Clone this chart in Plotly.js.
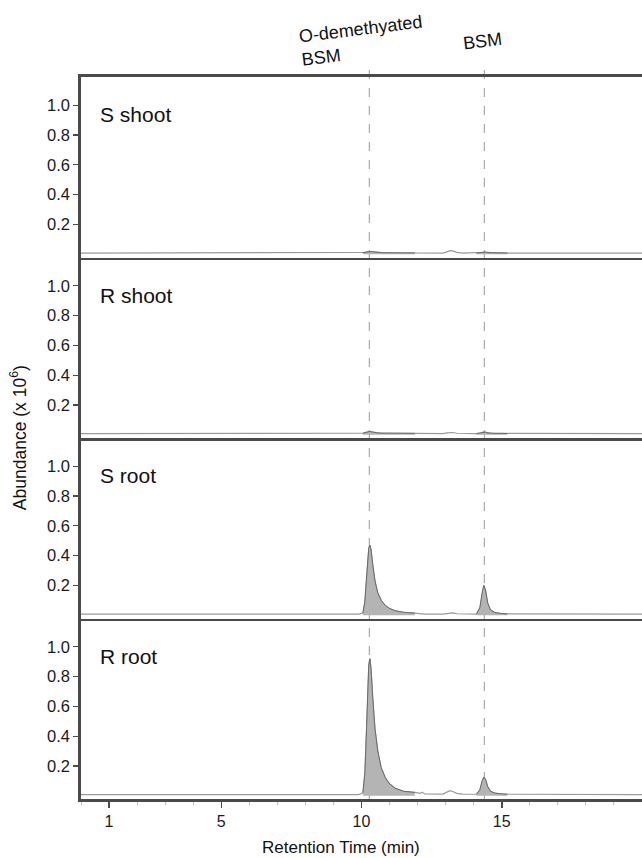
<!DOCTYPE html>
<html>
<head>
<meta charset="utf-8">
<script src="https://cdn.plot.ly/plotly-3.0.1.min.js"></script>
<style>html,body{margin:0;padding:0;background:#fff;}#chart{width:642px;height:858px;}</style>
</head>
<body>
<div id="chart"></div>
<script>
// Retention time grid (min)
const times = [0, 9.9, 10.05, 10.12, 10.18, 10.22, 10.26, 10.30, 10.34, 10.40, 10.48, 10.58, 10.70, 10.85, 11.0, 11.2, 11.4, 11.5, 11.9, 12.1, 12.17, 12.25, 12.9, 13.05, 13.15, 13.25, 13.4, 13.6, 14.1, 14.22, 14.3, 14.36, 14.42, 14.5, 14.6, 14.75, 14.95, 15.2, 20];
// Abundance (x 10^6) per sample
const sShoot = [0.008, 0.008, 0.010, 0.013, 0.016, 0.018, 0.019, 0.019, 0.018, 0.016, 0.014, 0.012, 0.011, 0.010, 0.010, 0.010, 0.010, 0.010, 0.009, 0.008, 0.008, 0.008, 0.008, 0.016, 0.024, 0.022, 0.012, 0.008, 0.008, 0.010, 0.013, 0.015, 0.014, 0.011, 0.010, 0.009, 0.009, 0.008, 0.008];
const rShoot = [0.008, 0.008, 0.010, 0.014, 0.018, 0.021, 0.022, 0.022, 0.020, 0.017, 0.014, 0.012, 0.011, 0.010, 0.010, 0.010, 0.010, 0.010, 0.009, 0.008, 0.008, 0.008, 0.008, 0.012, 0.016, 0.015, 0.010, 0.008, 0.008, 0.011, 0.016, 0.019, 0.017, 0.012, 0.010, 0.009, 0.009, 0.008, 0.008];
const sRoot  = [0.008, 0.008, 0.015, 0.09, 0.25, 0.38, 0.45, 0.47, 0.44, 0.34, 0.23, 0.15, 0.10, 0.065, 0.045, 0.030, 0.022, 0.020, 0.014, 0.010, 0.009, 0.008, 0.008, 0.012, 0.018, 0.016, 0.010, 0.008, 0.008, 0.05, 0.15, 0.20, 0.17, 0.08, 0.035, 0.018, 0.012, 0.009, 0.008];
const rRoot  = [0.008, 0.008, 0.02, 0.15, 0.45, 0.72, 0.88, 0.92, 0.85, 0.66, 0.45, 0.30, 0.19, 0.12, 0.08, 0.05, 0.035, 0.03, 0.022, 0.016, 0.024, 0.012, 0.011, 0.022, 0.034, 0.028, 0.016, 0.011, 0.010, 0.04, 0.10, 0.125, 0.11, 0.06, 0.03, 0.018, 0.013, 0.010, 0.008];
const samples = [sShoot, rShoot, sRoot, rRoot];
const panelLabels = ['S shoot', 'R shoot', 'S root', 'R root'];
// Identified compounds
const peakTimes = [10.28, 14.38];
const peakNames = ['O-demethyated<br>BSM', 'BSM'];
const peakLabelX = [10.0, 14.33];
// Integration windows (shaded areas)
const windowStart = [10.0, 14.1];
const windowEnd = [11.9, 15.2];
const xTickVals = [1, 5, 10, 15];
const yTickVals = [0.2, 0.4, 0.6, 0.8, 1.0];

const FONT = '"Liberation Sans", Arial, Helvetica, sans-serif';
const AXC = '#4a4a4a';
const traces = [];
const layout = {
  width: 642, height: 858,
  margin: {l: 81, r: 0, t: 77, b: 59},
  paper_bgcolor: '#fff', plot_bgcolor: '#fff',
  showlegend: false,
  font: {family: FONT, size: 16, color: '#1a1a1a'},
  annotations: [], shapes: []
};

samples.forEach((vals, i) => {
  const n = i + 1;
  const xa = n === 1 ? 'x' : 'x' + n;
  const ya = n === 1 ? 'y' : 'y' + n;
  const xKey = n === 1 ? 'xaxis' : 'xaxis' + n;
  const yKey = n === 1 ? 'yaxis' : 'yaxis' + n;
  const isBottom = i === samples.length - 1;
  const top = 1 - i * 0.25, bot = 1 - (i + 1) * 0.25;

  traces.push({x: times, y: vals, xaxis: xa, yaxis: ya, type: 'scatter', mode: 'lines',
    line: {color: '#9a9a9a', width: 1.2}, hoverinfo: 'skip'});
  windowStart.forEach((ws, k) => {
    const idx = times.map((t, j) => j).filter(j => times[j] >= ws && times[j] <= windowEnd[k]);
    traces.push({x: idx.map(j => times[j]), y: idx.map(j => vals[j]), xaxis: xa, yaxis: ya,
      type: 'scatter', mode: 'lines', fill: 'tozeroy', fillcolor: '#b4b4b4',
      line: {color: '#6a6a6a', width: 1}, hoverinfo: 'skip'});
  });

  layout[xKey] = {
    domain: [0, 1], anchor: ya, range: [0, 20],
    showline: true, mirror: i === 0, linecolor: AXC, linewidth: 2.8,
    showgrid: false, zeroline: false,
    showticklabels: isBottom,
    ticks: isBottom ? 'outside' : '', ticklen: 6, tickwidth: 1.5, tickcolor: AXC,
    tickmode: 'array', tickvals: xTickVals, ticktext: xTickVals.map(String),
    tickfont: {family: FONT, size: 16, color: '#1a1a1a'},
    minor: isBottom ? {dtick: 1, tick0: 0, ticks: 'outside', ticklen: 3, tickcolor: '#bbb', tickwidth: 1} : {ticks: ''}
  };
  if (n > 1) layout[xKey].matches = 'x';
  layout[yKey] = {
    domain: [bot, top], anchor: xa, range: [-0.022, 1.19],
    showline: true, mirror: false, linecolor: AXC, linewidth: 2.8,
    showgrid: false, zeroline: false,
    ticks: 'outside', ticklen: 5, tickwidth: 1.2, tickcolor: AXC,
    tickmode: 'array', tickvals: yTickVals, ticktext: yTickVals.map(v => v.toFixed(1)),
    tickfont: {family: FONT, size: 16.5, color: '#1a1a1a'}
  };
  layout.annotations.push({
    text: panelLabels[i], xref: xa + ' domain', yref: ya + ' domain',
    x: 0.03, y: 0.79, xanchor: 'left', yanchor: 'middle', showarrow: false,
    font: {family: FONT, size: 21, color: '#111'}
  });
});

peakTimes.forEach((pt, k) => {
  layout.shapes.push({type: 'line', xref: 'x', yref: 'paper', x0: pt, x1: pt, y0: 0, y1: 1.021,
    line: {color: '#aaa', width: 1.2, dash: 'dash'}, layer: 'below'});
  layout.annotations.push({text: peakNames[k], xref: 'x', yref: 'paper', x: peakLabelX[k], y: 1.05,
    xanchor: 'center', yanchor: 'middle', align: 'left', textangle: -7, showarrow: false,
    font: {family: FONT, size: 18, color: '#111'}});
});

layout.annotations.push({text: 'Abundance (x 10<sup>6</sup>)', xref: 'paper', yref: 'paper',
  x: -0.112, y: 0.5, textangle: -90, showarrow: false, xanchor: 'center', yanchor: 'middle',
  font: {family: FONT, size: 17.5, color: '#111'}});
layout.annotations.push({text: 'Retention Time (min)', xref: 'paper', yref: 'paper',
  x: 0.463, y: -0.0665, showarrow: false, xanchor: 'center', yanchor: 'middle',
  font: {family: FONT, size: 17, color: '#111'}});

Plotly.newPlot('chart', traces, layout, {displayModeBar: false, staticPlot: true});
</script>
</body>
</html>
